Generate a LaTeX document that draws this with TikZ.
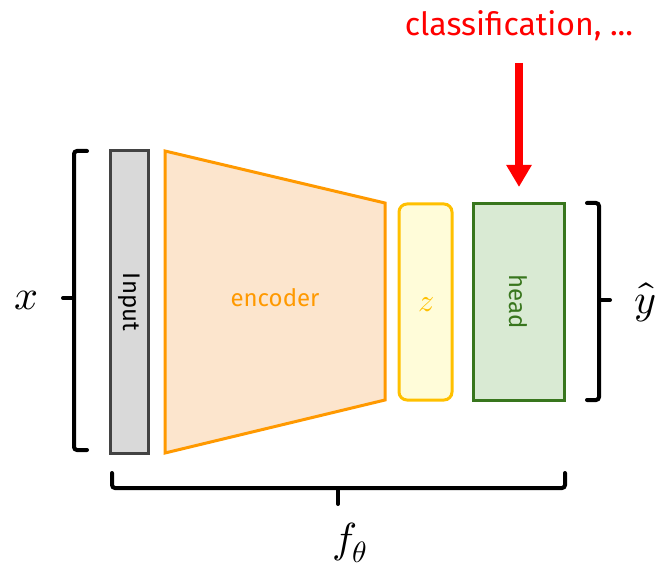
\documentclass[tikz,border=0pt]{standalone}
\usepackage{fontspec}
\usepackage{unicode-math}
\setmathfont{Latin Modern Math}
\setsansfont{Fira Sans}
\usetikzlibrary{arrows.meta}
\definecolor{inpfill}{HTML}{D9D9D9}
\definecolor{inpdraw}{HTML}{434343}
\definecolor{encfill}{HTML}{FCE5CD}
\definecolor{encdraw}{HTML}{FF9900}
\definecolor{zfill}{HTML}{FFFCD9}
\definecolor{zdraw}{HTML}{FFC000}
\definecolor{hfill}{HTML}{D9EAD3}
\definecolor{hdraw}{HTML}{38761D}
\definecolor{myred}{HTML}{FF0000}
\tikzset{
  x=1pt, y=-1pt,
  blk/.style={line width=3pt},
  brace/.style={line width=4pt, rounded corners=3pt, black, line cap=round},
  lbl/.style={font=\sffamily\fontsize{24}{26}\selectfont, inner sep=0pt},
  mathlbl/.style={font=\fontsize{42}{44}\selectfont, inner sep=0pt},
}
\begin{document}
\begin{tikzpicture}
\useasboundingbox (0,0) rectangle (664,569);
% input
\draw[blk, draw=inpdraw, fill=inpfill] (110,151) rectangle (148,453);
\node[lbl, rotate=-90, text=black] (inp) at (129,302) {Input};
% encoder
\draw[blk, draw=encdraw, fill=encfill, line join=miter] (165,151) -- (385,203) -- (385,400) -- (165,453) -- cycle;
\node[lbl, text=encdraw] (enc) at (275,298) {encoder};
% z
\draw[blk, draw=zdraw, fill=zfill, rounded corners=8pt] (399,204) rectangle (452,400);
\node[font=\fontsize{32}{34}\selectfont, text=zdraw, inner sep=0pt] (z) at (426,305) {$z$};
% head
\draw[blk, draw=hdraw, fill=hfill] (473,204) rectangle (564,400);
\node[lbl, rotate=-90, text=hdraw] (head) at (518,302) {head};
% classification arrow
\node[font=\sffamily\fontsize{32}{34}\selectfont, text=myred, inner sep=0pt] (cls) at (519,26) {classification, ...};
\coordinate (as) at (519,63);
\coordinate (ae) at (519,187);
\draw[myred, line width=8pt, -{Triangle[length=22pt,width=24pt]}] (as) -- (ae);
% left brace
\draw[brace] (87,151) -- (74,151) -- (74,450) -- (87,450);
\draw[brace, rounded corners=0pt] (74,298) -- (63,298);
\node[mathlbl] (x) at (27,300) {$x$};
% right brace
\draw[brace] (587,203) -- (599,203) -- (599,400) -- (587,400);
\draw[brace, rounded corners=0pt] (599,300) -- (610,300);
\node[mathlbl] (yhat) at (645,302) {$\hat{y}$};
% bottom brace
\draw[brace] (112,473) -- (112,488) -- (565,488) -- (565,473);
\draw[brace, rounded corners=0pt] (338,488) -- (338,504);
\node[mathlbl] (f) at (350,543) {$f_\theta$};
\end{tikzpicture}
\end{document}
